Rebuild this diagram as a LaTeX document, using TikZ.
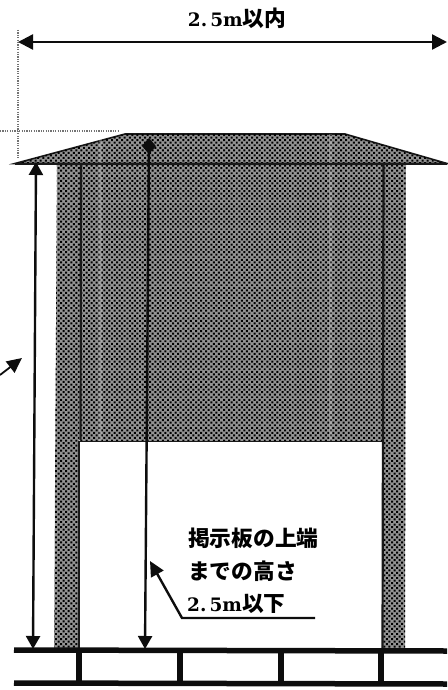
\documentclass[tikz,border=0pt]{standalone}
\usepackage{fontspec}
\setmainfont[BoldFont={DejaVu Serif Bold}]{DejaVu Serif}
\newfontfamily\cjk{Noto Sans CJK JP}
\usetikzlibrary{arrows.meta,patterns.meta}
\tikzset{
  x=1pt,y=-1pt,
  screen/.style={fill=black!42,postaction={pattern={Dots[distance=3.6pt,radius=1.4pt,angle=45]},pattern color=black}},
  edge/.style={draw=black!90,line width=1.6pt},
  dim/.style={draw=black!95,line width=2.4pt},
  tip/.style={-{Triangle[length=15pt,width=14pt]}},
  tips/.style={{Triangle[length=15pt,width=15pt]}-{Triangle[length=15pt,width=15pt]}},
  guide/.style={draw=black!55,line width=1.8pt,dash pattern=on 1.2pt off 1.2pt},
  ground/.style={draw=black!95,line width=5.5pt},
  strut/.style={draw=black!95,line width=6pt},
  streak/.style={draw=white,opacity=0.22,line width=3pt},
  label/.style={font=\fontsize{21.7}{24}\selectfont\bfseries\cjk,inner sep=0pt,anchor=west,text=black},
  dimlabel/.style={font=\fontsize{18.5}{24}\selectfont\bfseries,inner sep=0pt,text=black}
}
\newcommand{\jfont}{\fontsize{21.7}{24}\selectfont\cjk}
\begin{document}
\begin{tikzpicture}
\useasboundingbox (0,0) rectangle (447,690);
% screened areas
\fill[screen] (57,164) -- (80,164) -- (79,650) -- (54,650) -- cycle;
\fill[screen] (383,164) -- (406,164) -- (405,650) -- (382,650) -- cycle;
\fill[screen] (80,164) rectangle (383,441);
\path[screen,edge] (15,163.5) -- (125,134) -- (345,134) -- (447,163.5) -- cycle;
\draw[streak] (100,134) -- (100,441);
\draw[streak] (330,134) -- (330,441);
% named points
\coordinate (wl) at (18,42); \coordinate (wr) at (447,42);
\coordinate (gv1) at (18,30); \coordinate (gv2) at (18,158);
\coordinate (gh1) at (0,131); \coordinate (gh2) at (118,131);
\coordinate (ht) at (36,162); \coordinate (hb) at (33,649);
\coordinate (ct) at (149,138); \coordinate (cb) at (145,649);
\coordinate (pa) at (150,561); \coordinate (pb) at (182,618); \coordinate (pc) at (315,618);
\coordinate (sa) at (0,375); \coordinate (sb) at (22,358);
\coordinate (gl1) at (14,650); \coordinate (gr1) at (447,651);
\coordinate (gl2) at (14,683); \coordinate (gr2) at (447,684);
\foreach \n/\x in {a/79,b/180,c/281,d/381}{
  \coordinate (\n1) at (\x,650); \coordinate (\n2) at (\x,683);
  \draw[strut] (\n1) -- (\n2);
}
% structure lines
\coordinate (il1) at (81,164); \coordinate (il2) at (80.5,440);
\coordinate (ir1) at (383.5,164); \coordinate (ir2) at (382.5,650);
\draw[edge,line width=2.2pt] (il1) -- (il2);
\draw[edge,line width=2.2pt] (ir1) -- (ir2);
\draw[edge,line width=1pt] (80,441) -- (383,441);
\draw[edge] (79,441) -- (79,650);
\draw[edge,line width=2.2pt] (15,164) -- (447,164);
\draw[ground] (gl1) -- (gr1);
\draw[ground] (gl2) -- (gr2);
% guides
\draw[guide] (gv1) -- (gv2);
\draw[guide] (gh1) -- (gh2);
% dimensions
\draw[dim,tips] (wl) -- (wr);
\draw[dim,{Triangle[length=13pt,width=14pt]}-{Triangle[length=13pt,width=14pt]}] (ht) -- (hb);
\draw[dim,{Diamond[length=16pt,width=14pt]}-{Triangle[length=13pt,width=14pt]}] (ct) -- (cb);
\draw[dim,tip] (pc) -- (pb) -- (pa);
\draw[dim,line width=1.8pt,tip] (sa) -- (sb);
% texts
\node[dimlabel] (title) at (237,18) {2.\,5m{\jfont 以内}};
\node[label] (t1) at (188,538) {掲示板の上端};
\node[label] (t2) at (188,571) {までの高さ};
\node[dimlabel,anchor=west] (t3) at (187,604) {2.\,5m{\jfont 以下}};
\end{tikzpicture}
\end{document}
